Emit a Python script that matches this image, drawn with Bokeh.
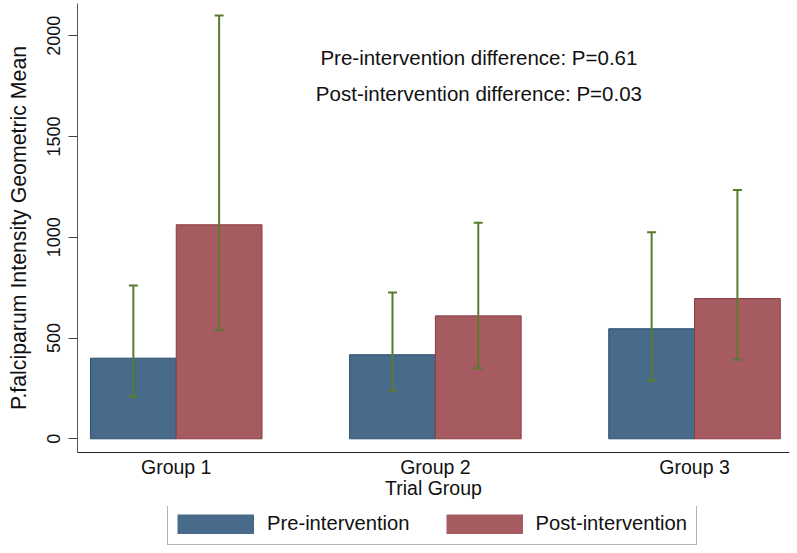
from bokeh.plotting import figure
from bokeh.layouts import column
from bokeh.models import (ColumnDataSource, FixedTicker, Whisker, TeeHead, Legend,
                          LegendItem, Label, Range1d)
from bokeh.embed import file_html
from bokeh.resources import INLINE

# ---- data ----
groups = ["Group 1", "Group 2", "Group 3"]
group_pos = [1, 2, 3]
pre_mean = [400, 417, 546]
pre_low = [210, 238, 289]
pre_high = [761, 726, 1025]
post_mean = [1062, 610, 696]
post_low = [539, 350, 392]
post_high = [2100, 1072, 1234]
y_ticks = [0, 500, 1000, 1500, 2000]
series_names = ["Pre-intervention", "Post-intervention"]
annot = ["Pre-intervention difference: P=0.61", "Post-intervention difference: P=0.03"]
annot_y = [1894, 1714]

FONT = "Liberation Sans"
PRE_C = "#486B8B"
POST_C = "#A55B60"
PRE_L = "#2E4E6C"
POST_L = "#8A3E45"
ERR_C = "#5A7A30"
OFF = 0.1655
BW = 0.331
W = 789

pre_src = ColumnDataSource(dict(x=[g - OFF for g in group_pos], top=pre_mean,
                                lo=pre_low, hi=pre_high))
post_src = ColumnDataSource(dict(x=[g + OFF for g in group_pos], top=post_mean,
                                 lo=post_low, hi=post_high))

p = figure(width=W, height=506, output_backend="svg", toolbar_location=None,
           x_range=Range1d(0.619, 3.3665), y_range=Range1d(-68, 2160),
           min_border_left=77, min_border_right=0, min_border_top=3, min_border_bottom=54)
p.outline_line_color = None
p.xgrid.grid_line_color = None
p.ygrid.grid_line_color = None
p.background_fill_color = "white"
p.border_fill_color = "white"

r_pre = p.vbar(x="x", top="top", bottom=0, width=BW, source=pre_src,
               fill_color=PRE_C, line_color=PRE_L, line_width=1)
r_post = p.vbar(x="x", top="top", bottom=0, width=BW, source=post_src,
                fill_color=POST_C, line_color=POST_L, line_width=1)

for src in (pre_src, post_src):
    w = Whisker(base="x", lower="lo", upper="hi", source=src, level="overlay",
                line_color=ERR_C, line_width=2,
                upper_head=TeeHead(size=9, line_color=ERR_C, line_width=2),
                lower_head=TeeHead(size=9, line_color=ERR_C, line_width=2))
    p.add_layout(w)

for txt, yy in zip(annot, annot_y):
    p.add_layout(Label(x=2.168, y=yy, text=txt, text_align="center", text_baseline="middle",
                       text_font=FONT, text_font_size="20.5px", text_color="#111111"))

# x axis
xa = p.xaxis[0]
xa.ticker = FixedTicker(ticks=group_pos)
xa.major_label_overrides = {g: lab for g, lab in zip(group_pos, groups)}
xa.major_tick_line_color = None
xa.minor_tick_line_color = None
xa.major_tick_out = 0
xa.major_tick_in = 0
xa.axis_line_color = "#222222"
xa.axis_line_width = 1
xa.major_label_text_font = FONT
xa.major_label_text_font_size = "19.5px"
xa.major_label_text_color = "#111111"
xa.major_label_standoff = 3
xa.axis_label = "Trial Group"
xa.axis_label_text_font = FONT
xa.axis_label_text_font_size = "19.5px"
xa.axis_label_text_font_style = "normal"
xa.axis_label_text_color = "#111111"
xa.axis_label_standoff = -4

# y axis
ya = p.yaxis[0]
ya.ticker = FixedTicker(ticks=y_ticks)
ya.minor_tick_line_color = None
ya.major_tick_out = 9
ya.major_tick_in = 0
ya.major_tick_line_color = "#444444"
ya.axis_line_color = "#555555"
ya.major_label_orientation = "vertical"
ya.major_label_text_font = FONT
ya.major_label_text_font_size = "18px"
ya.major_label_text_color = "#111111"
ya.major_label_standoff = 8
ya.axis_label = "P.falciparum Intensity Geometric Mean"
ya.axis_label_text_font = FONT
ya.axis_label_text_font_size = "21.3px"
ya.axis_label_text_font_style = "normal"
ya.axis_label_text_color = "#111111"
ya.axis_label_standoff = 14

# ---- legend strip below (swatches drawn from the same series, kept out of view) ----
lg = figure(width=W, height=39, output_backend="svg", toolbar_location=None,
            x_axis_location=None, y_axis_location=None,
            x_range=Range1d(100, 101), y_range=Range1d(0, 1),
            min_border_left=0, min_border_right=0, min_border_top=0, min_border_bottom=0)
lg.outline_line_color = None
lg.xgrid.grid_line_color = None
lg.ygrid.grid_line_color = None
l_pre = lg.line(x="x", y="top", source=pre_src, line_color=PRE_C, line_width=20,
                line_cap="butt")
l_post = lg.line(x="x", y="top", source=post_src, line_color=POST_C, line_width=20,
                 line_cap="butt")
legend = Legend(items=[LegendItem(label=series_names[0], renderers=[l_pre]),
                       LegendItem(label=series_names[1], renderers=[l_post])],
                orientation="horizontal", location=(90, 0),
                glyph_width=77, glyph_height=20, padding=9, spacing=36,
                label_standoff=13, label_text_font=FONT, label_text_font_size="20.2px",
                label_text_color="#111111", border_line_color="#666666",
                border_line_width=1, margin=0, label_height=20,
                background_fill_color="white")
lg.add_layout(legend)

open("out.html", "w").write(file_html(column(p, lg, spacing=0), INLINE))
